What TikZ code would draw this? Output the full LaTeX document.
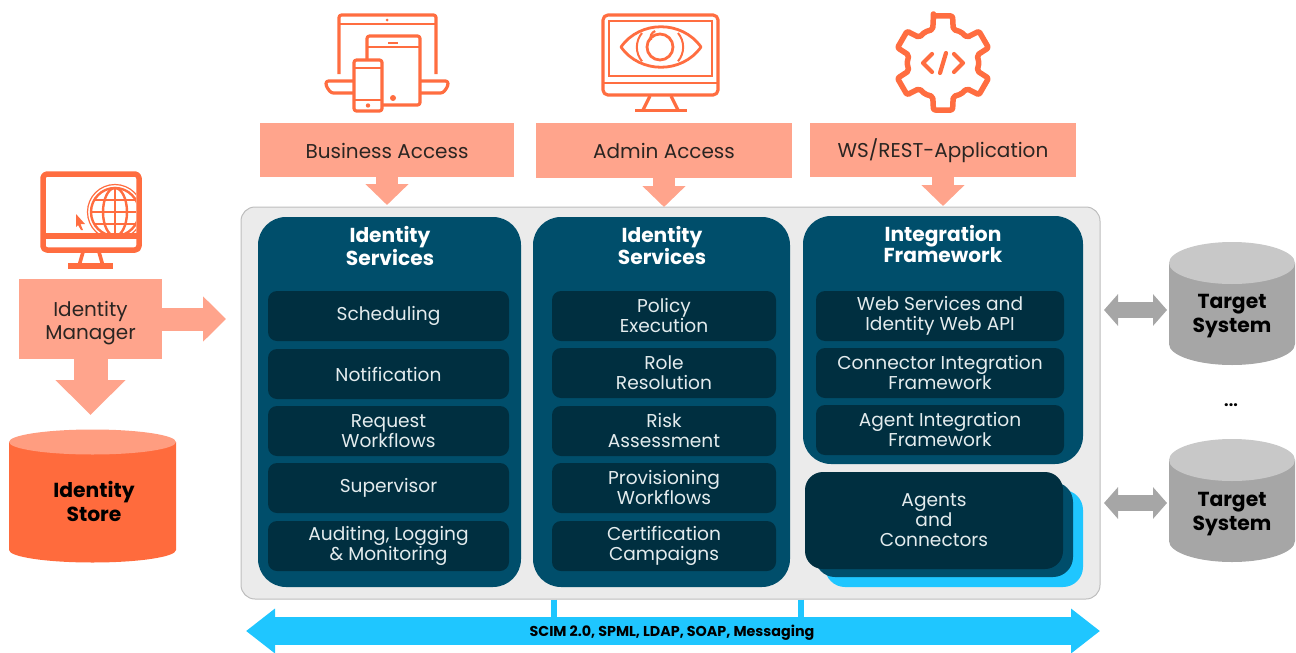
\documentclass[tikz,border=0pt]{standalone}
\usepackage{fontspec}
\setmainfont{Poppins}
\usetikzlibrary{arrows.meta,calc}
\definecolor{salmon}{HTML}{FFA48C}
\definecolor{icon}{HTML}{FF6D40}
\definecolor{storebody}{HTML}{FF6B3D}
\definecolor{storetop}{HTML}{FF9D80}
\definecolor{panelfill}{HTML}{EBEBEB}
\definecolor{panelline}{HTML}{BDBDBD}
\definecolor{colfill}{HTML}{004E6B}
\definecolor{rowfill}{HTML}{002F40}
\definecolor{cyanbar}{HTML}{1FC6FF}
\definecolor{graybody}{HTML}{A6A6A6}
\definecolor{graytop}{HTML}{C8C8C8}
\definecolor{rowtext}{HTML}{E4ECEE}
\definecolor{labtext}{HTML}{2A2522}
\tikzset{
  accessbox/.style={fill=salmon,inner sep=0pt,align=center,text=labtext,font=\fontsize{20}{23}\selectfont},
  column/.style={fill=colfill,rounded corners=28pt,inner sep=0pt},
  rowbox/.style={fill=rowfill,rounded corners=9pt,inner sep=0pt,align=center,text=rowtext,font=\fontsize{18.6}{20}\selectfont},
  head/.style={inner sep=0pt,align=center,text=white,font=\fontsize{20.2}{21.5}\selectfont\bfseries},
  blocktip/.style={line width=22pt,salmon,-{Triangle[length=#1,width=42pt]}},
  iconline/.style={draw=icon,line width=3.2pt,line join=round,rounded corners=2.5pt},
  cyltext/.style={inner sep=0pt,align=center,text=black,font=\fontsize{20.3}{24}\selectfont\bfseries},
  twoway/.style={graybody,line width=16pt,{Triangle[length=14pt,width=31pt]}-{Triangle[length=14pt,width=31pt]}}
}
\newcommand{\cylshape}[7]{%
  \fill[#6] (#1,#3) -- (#1,#4) arc[x radius={(#2-#1)/2},y radius=#5,start angle=180,end angle=0] -- (#2,#3) -- cycle;
  \fill[#7] ({(#1+#2)/2},#3) ellipse[x radius={(#2-#1)/2},y radius=#5];
}
\begin{document}
\begin{tikzpicture}[x=1pt,y=-1pt]
\useasboundingbox (0,0) rectangle (1296,653);
% panel
\node[fill=panelfill,draw=panelline,line width=1pt,rounded corners=14pt,minimum width=859pt,minimum height=392pt,inner sep=0pt] (panel) at (670.5,403) {};
% access boxes
\node[accessbox,minimum width=254pt,minimum height=54pt,text height=20pt,text depth=4pt] (ba) at (387,150) {Business Access};
\node[accessbox,minimum width=256pt,minimum height=54.5pt,text height=20pt,text depth=4pt] (aa) at (664,150.5) {Admin Access};
\node[accessbox,minimum width=266pt,minimum height=54pt,text height=19pt,text depth=4pt] (ws) at (943,150) {WS/REST-Application};
\node[accessbox,minimum width=143pt,minimum height=80pt] (im) at (90.5,319) {\rule{0pt}{23pt}Identity\\Manager};
\coordinate (baT) at (387,205);
\coordinate (aaT) at (664,207);
\coordinate (wsT) at (943,206);
\coordinate (imR) at (226,319);
\coordinate (imD) at (90.5,415);
\draw[blocktip=21pt] (ba.south) -- (baT);
\draw[blocktip=21pt] (aa.south) -- (aaT);
\draw[blocktip=21pt] (ws.south) -- (wsT);
\draw[salmon,line width=23pt,-{Triangle[length=23pt,width=44pt]}] (im.east) -- (imR);
\draw[salmon,line width=34pt,-{Triangle[length=35pt,width=68pt]}] (im.south) -- (imD);
% columns
\node[column,minimum width=263pt,minimum height=370pt] (c1) at (389.5,402) {};
\node[column,minimum width=257pt,minimum height=370pt] (c2) at (661.5,402) {};
\node[column,minimum width=280pt,minimum height=248pt] (c3) at (943,340) {};
\node[head] (h1) at (390,246) {Identity\\Services};
\node[head] (h2) at (662,245.5) {Identity\\Services};
\node[head] (h3) at (943,244) {Integration\\Framework};
% rows col 1
\foreach \n/\y/\t in {a/316/Scheduling,b/374/Notification,c/431/Request\\Workflows,d/488/Supervisor,e/546/{Auditing, Logging\\\& Monitoring}}
  \node[rowbox,minimum width=241pt,minimum height=50pt] (r1\n) at (388.5,\y) {\t};
\foreach \n/\y/\t in {a/316/Policy\\Execution,b/373/Role\\Resolution,c/431/Risk\\Assessment,d/488/Provisioning\\Workflows,e/546/Certification\\Campaigns}
  \node[rowbox,minimum width=224pt,minimum height=50pt] (r2\n) at (664,\y) {\t};
\foreach \n/\y/\t in {a/316/Web Services and\\Identity Web API,b/373/Connector Integration\\Framework,c/430/Agent Integration\\Framework}
  \node[rowbox,minimum width=248pt,minimum height=50pt] (r3\n) at (940,\y) {\t};
% agents
\node[fill=cyanbar,rounded corners=20pt,minimum width=258pt,minimum height=97pt,inner sep=0pt] (ag3) at (954,538.5) {};
\node[fill=colfill,rounded corners=20pt,minimum width=258pt,minimum height=95pt,inner sep=0pt] (ag2) at (944,529.5) {};
\node[rowbox,rounded corners=18pt,minimum width=258pt,minimum height=97pt] (ag1) at (934,520.5) {Agents\\and\\Connectors};
% bus
\coordinate (busL) at (246,631);
\coordinate (busR) at (1100,631);
\draw[cyanbar,line width=28pt,{Triangle[length=29pt,width=43pt]}-{Triangle[length=29pt,width=43pt]}] (busL) -- (busR);
\node[inner sep=0pt,text=black,font=\fontsize{14.3}{15}\selectfont\bfseries] (bus) at (672,632.5) {SCIM 2.0, SPML, LDAP, SOAP, Messaging};
\coordinate (s1) at (554,617);
\coordinate (s2) at (801,617);
\draw[cyanbar,line width=6pt] (s1 |- panel.south) -- (s1);
\draw[cyanbar,line width=6pt] (s2 |- panel.south) -- (s2);
% store
\cylshape{9}{176}{442}{550}{12.5}{storebody}{storetop}
\node[cyltext] (store) at (94,501) {Identity\\Store};
% targets
\cylshape{1169}{1295}{263}{344}{21}{graybody}{graytop}
\cylshape{1169}{1295}{460}{541}{21}{graybody}{graytop}
\node[cyltext] (t1) at (1232,316) {Target\\System};
\node[cyltext] (t2) at (1232,514) {Target\\System};
\node[inner sep=0pt,text=black,font=\fontsize{16}{18}\selectfont\bfseries] (dots) at (1231,405) {...};
\coordinate (g1a) at (1104,310); \coordinate (g1b) at (1167,310);
\coordinate (g2a) at (1104,503); \coordinate (g2b) at (1167,503);
\draw[twoway] (g1a) -- (g1b);
\draw[twoway] (g2a) -- (g2b);
% laptop icon
\draw[iconline] (339,74) -- (339,15) -- (436,15) -- (436,74);
\draw[icon,line width=2.4pt] (339,24) -- (436,24);
\fill[icon] (387,20) circle (1.5pt);
\draw[iconline] (353,81) -- (326,81) -- (326,86) -- (331,93) -- (353,93);
\draw[iconline] (421,81) -- (448,81) -- (448,86) -- (443,93) -- (421,93);
\fill[white] (367,36) rectangle (420,105);
\draw[iconline] (367,59) -- (367,36) -- (420,36) -- (420,105) -- (383,105);
\draw[icon,line width=2.4pt] (367,47) -- (420,47);
\draw[icon,line width=2pt] (388,43) -- (398,43);
\fill[icon] (393,98) circle (3pt);
\fill[white] (354,60) rectangle (382,111);
\draw[iconline] (354,60) rectangle (382,111);
\draw[icon,line width=2.4pt] (354,68) -- (382,68) (354,100) -- (382,100);
\fill[icon] (368,105.5) circle (2.2pt);
% eye monitor
\draw[iconline,rounded corners=5pt] (603,15) rectangle (718,95);
\draw[icon,line width=2.6pt] (609,21) rectangle (712,76);
\draw[icon,line width=2.4pt] (603,83) -- (718,83);
\draw[icon,line width=3.2pt,line join=round] (650,96) -- (643,110) (671,96) -- (678,110);
\draw[icon,line width=3.6pt] (635,110.5) -- (687,110.5);
\draw[icon,line width=2.8pt,line join=round] (621,47) .. controls (640,20) and (682,20) .. (701,47) .. controls (682,74) and (640,74) .. (621,47) -- cycle;
\draw[icon,line width=2.8pt] (660,47) circle (13pt);
\draw[icon,line width=2pt] (642,33) arc[start angle=140,end angle=220,radius=22pt];
\draw[icon,line width=2pt] (678,33) arc[start angle=40,end angle=-40,radius=22pt];
\draw[icon,line width=2.2pt] (651,40) arc[start angle=200,end angle=110,radius=7pt];
% gear
\draw[iconline,line width=5.5pt,rounded corners=2pt]
  ({943+48*cos(101.5)},{63-48*sin(101.5)})
  \foreach \a in {90,30,-30,-90,-150,-210} {
    -- ({943+48*cos(\a+11.5)},{63-48*sin(\a+11.5)})
    -- ({943+48*cos(\a-11.5)},{63-48*sin(\a-11.5)})
    -- ({943+35*cos(\a-17)},{63-35*sin(\a-17)})
    -- ({943+36*cos(\a-30)},{63-36*sin(\a-30)})
    -- ({943+35*cos(\a-43)},{63-35*sin(\a-43)})
  } -- cycle;
\draw[icon,line width=4.2pt,line cap=round,line join=round] (932,54) -- (923,63) -- (932,72);
\draw[icon,line width=4.2pt,line cap=round,line join=round] (954,54) -- (963,63) -- (954,72);
\draw[icon,line width=4.2pt,line cap=round] (946,53) -- (940,73);
% globe monitor
\draw[iconline,line width=5.5pt,rounded corners=4pt] (43,174) rectangle (139,250);
\fill[icon] (43,233) rectangle (139,239);
\draw[icon,line width=3.6pt] (83,252) -- (79,266) (99,252) -- (103,266);
\fill[icon] (68,263) rectangle (113,269);
\begin{scope}
\clip (46,177) rectangle (136,233);
\draw[icon,line width=1.2pt] (115,212) circle (27.5pt);
\draw[icon,line width=2.4pt] (115,212) circle (24pt);
\draw[icon,line width=2.4pt] (115,212) ellipse[x radius=12,y radius=24];
\draw[icon,line width=2.4pt] (115,188) -- (115,236);
\draw[icon,line width=2.4pt] (91,212) -- (139,212) (94,200) -- (136,200) (94,224) -- (136,224);
\end{scope}
\fill[icon] (76,214) -- (85,224) -- (80.5,224) -- (83,230) -- (81,230) -- (78,225) -- (76,227) -- cycle;
\end{tikzpicture}
\end{document}
